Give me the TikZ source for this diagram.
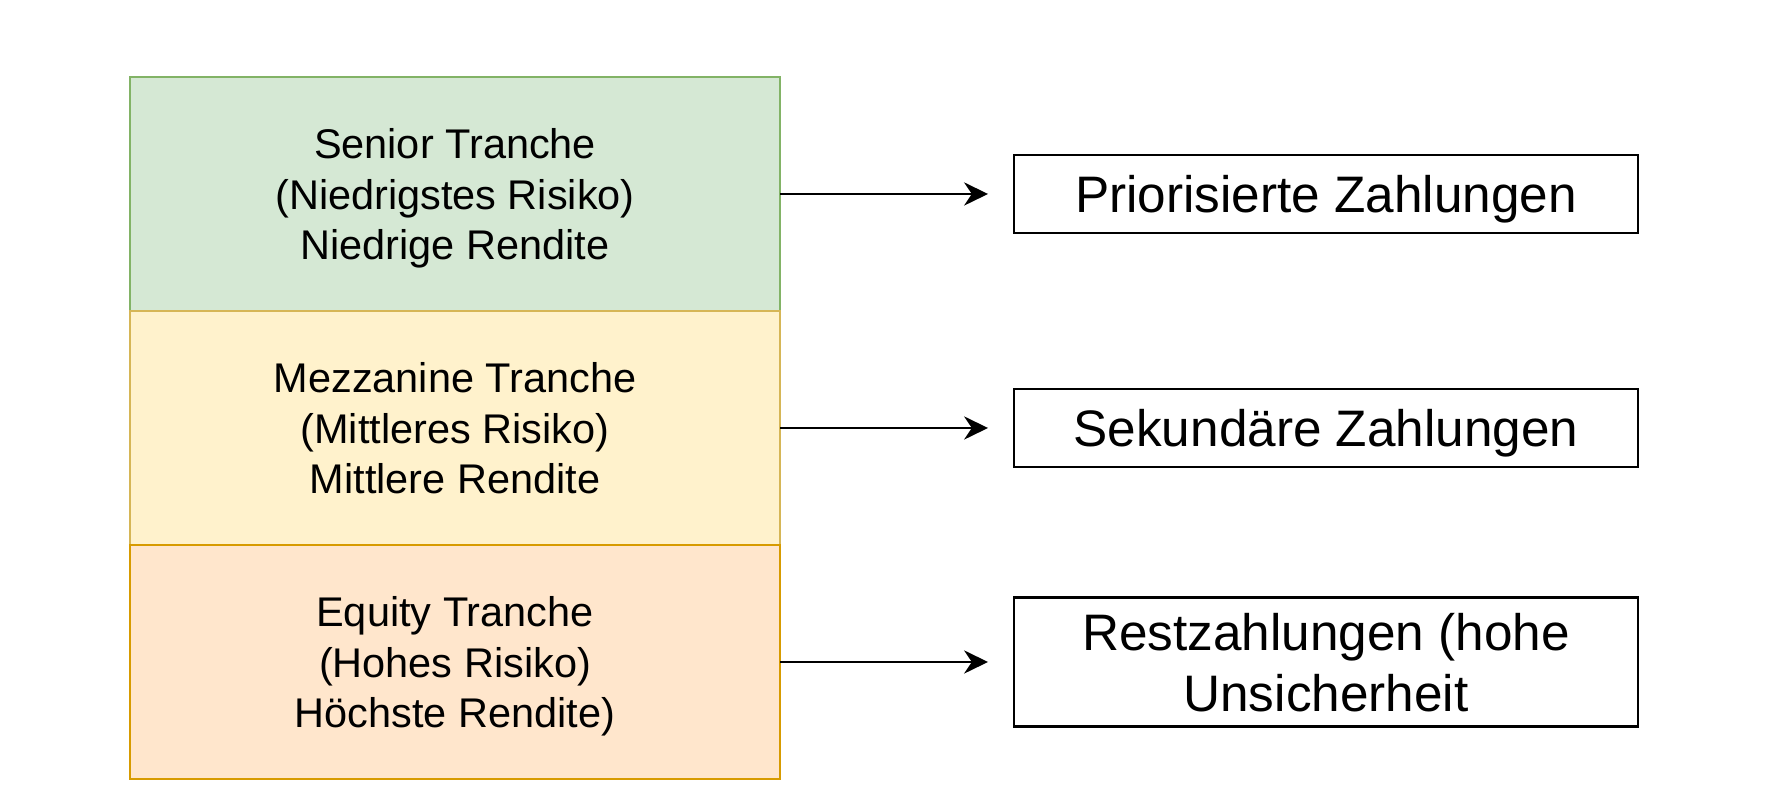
\documentclass[tikz,border=0pt]{standalone}
\usepackage{fontspec}
\setmainfont{Liberation Sans}
\usetikzlibrary{arrows.meta, positioning}

\definecolor{seniorfill}{HTML}{D5E8D4}
\definecolor{seniorline}{HTML}{82B366}
\definecolor{mezzfill}{HTML}{FFF2CC}
\definecolor{mezzline}{HTML}{D6B656}
\definecolor{equityfill}{HTML}{FFE6CC}
\definecolor{equityline}{HTML}{D79B00}

\begin{document}
\begin{tikzpicture}[
  tranche/.style={draw, line width=0.75pt, outer sep=0pt, minimum width=6.5cm, minimum height=2.34cm,
    align=center, text depth=0pt, font=\fontsize{11.8}{14.3}\selectfont},
  payout/.style={draw=black, line width=0.8pt, outer sep=0pt, inner sep=0pt, minimum width=6.24cm,
    align=center, text depth=0pt, font=\fontsize{14.6}{17.4}\selectfont},
  flow/.style={-{Stealth[length=6.8pt,width=6.6pt,inset=2.2pt]}, line width=0.7pt, shorten >=0.26cm}
]
\useasboundingbox (0,0) rectangle (17.76,8.06);

% Tranchen (left stack)
\node[tranche, fill=seniorfill, draw=seniorline] (senior) at (4.55,6.12)
    {Senior Tranche\\(Niedrigstes Risiko)\\Niedrige Rendite};
\node[tranche, fill=mezzfill, draw=mezzline] (mezz) at (4.55,3.78)
    {Mezzanine Tranche\\(Mittleres Risiko)\\Mittlere Rendite};
\node[tranche, fill=equityfill, draw=equityline] (equity) at (4.55,1.44)
    {Equity Tranche\\(Hohes Risiko)\\Höchste Rendite)};

% Zahlungen (right column)
\node[payout, minimum height=0.78cm] (prio) at (13.26,6.12) {Priorisierte Zahlungen};
\node[payout, minimum height=0.78cm] (sek) at (13.26,3.78) {Sekundäre Zahlungen};
\node[payout, minimum height=1.29cm] (rest) at (13.26,1.44) {Restzahlungen (hohe\\Unsicherheit};

% Pfeile
\draw[flow] (senior.east) -- (prio.west);
\draw[flow] (mezz.east) -- (sek.west);
\draw[flow] (equity.east) -- (rest.west);
\end{tikzpicture}
\end{document}
